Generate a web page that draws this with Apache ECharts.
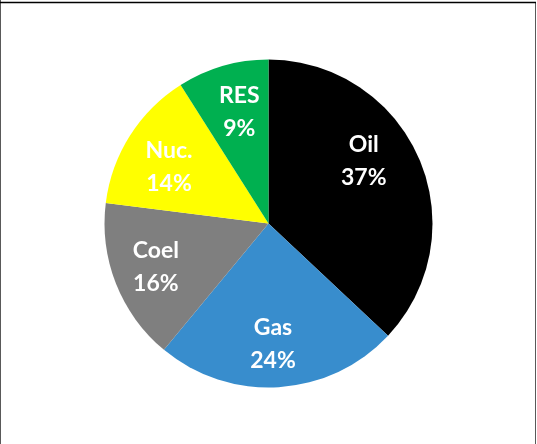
<!DOCTYPE html>
<html>
<head>
<meta charset="utf-8">
<script src="https://cdn.jsdelivr.net/npm/echarts@6/dist/echarts.min.js"></script>
<style>
  html, body { margin: 0; padding: 0; background: #ffffff; }
  #chart { width: 537px; height: 444px; }
</style>
</head>
<body>
<div id="chart"></div>
<script>
// Energy mix shares (percent)
const categories = ['Oil', 'Gas', 'Coel', 'Nuc.', 'RES'];
const shares = [37, 24, 16, 14, 9];
const sliceColors = ['#000000', '#388dcd', '#7f7f7f', '#ffff00', '#00b050'];

// small nudges so each label sits where it reads best in its slice
const labelNudge = { 'Oil': [-14, -15], 'Gas': [-3, 2], 'Coel': [-2, 0], 'Nuc.': [1, 7], 'RES': [4, 3] };

const chart = echarts.init(document.getElementById('chart'), null, { renderer: 'canvas' });

const cx = 268.5, cy = 223.5, R = 164;

const pieData = categories.map((name, i) => ({
  name: name,
  value: shares[i],
  itemStyle: { color: sliceColors[i] }
}));

const labelData = categories.map((name, i) => ({
  name: name,
  value: shares[i],
  label: labelNudge[name] ? { offset: labelNudge[name] } : {}
}));

chart.setOption({
  backgroundColor: '#ffffff',
  animation: false,
  graphic: [
    { type: 'line', shape: { x1: 0.5, y1: 0, x2: 0.5, y2: 444 }, style: { stroke: '#595959', lineWidth: 1 } },
    { type: 'line', shape: { x1: 535.5, y1: 2, x2: 535.5, y2: 444 }, style: { stroke: '#595959', lineWidth: 1 } },
    { type: 'line', shape: { x1: 0, y1: 2.5, x2: 536, y2: 2.5 }, style: { stroke: '#000000', lineWidth: 1.5 } }
  ],
  series: [
    {
      type: 'pie',
      center: [cx, cy],
      radius: [0, R],
      startAngle: 90,
      clockwise: true,
      silent: true,
      label: { show: false },
      labelLine: { show: false },
      itemStyle: { borderWidth: 0 },
      data: pieData
    },
    {
      // label ring: transparent slices that carry the data labels
      type: 'pie',
      center: [cx, cy],
      radius: [68, R],
      startAngle: 90,
      clockwise: true,
      silent: true,
      itemStyle: { color: 'rgba(0,0,0,0)', borderWidth: 0 },
      labelLine: { show: false },
      label: {
        show: true,
        position: 'inside',
        formatter: '{b}\n{c}%',
        color: '#ffffff',
        fontFamily: 'Lato',
        fontWeight: 'bold',
        fontSize: 23,
        lineHeight: 33,
        align: 'center'
      },
      data: labelData
    }
  ]
});
</script>
</body>
</html>
